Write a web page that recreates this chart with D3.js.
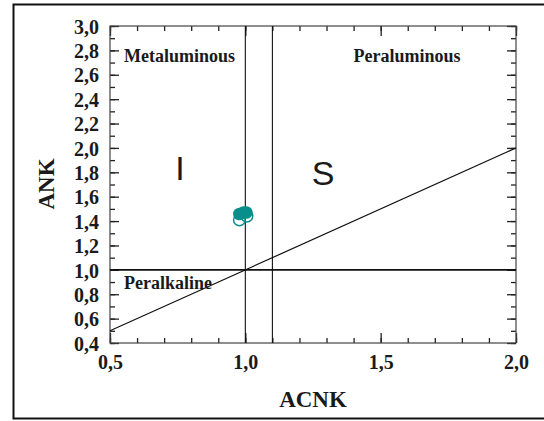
<!DOCTYPE html>
<html>
<head>
<meta charset="utf-8">
<script src="https://cdn.jsdelivr.net/npm/d3@7"></script>
<style>
  body { margin: 0; background: #fff; }
  .axisLabel { font-family: "Liberation Serif", "Times New Roman", serif; font-weight: bold; fill: #1a1a1a; }
  .fieldLabel { font-family: "Liberation Serif", "Times New Roman", serif; font-weight: bold; font-size: 18px; fill: #1a1a1a; }
  .typeLabel { font-family: "Liberation Sans", Arial, sans-serif; font-size: 34px; fill: #1a1a1a; }
</style>
</head>
<body>
<div id="graph"></div>
<script>
// 
// Data...
// 
var xTicks      = [0.5, 1.0, 1.5, 2.0];
var yTicks      = [0.4, 0.6, 0.8, 1.0, 1.2, 1.4, 1.6, 1.8, 2.0, 2.2, 2.4, 2.6, 2.8, 3.0];

var filledACNK  = [0.978, 0.993, 1.004];
var filledANK   = [1.458, 1.470, 1.470];
var openACNK    = [0.978, 1.006];
var openANK     = [1.409, 1.441];

var fieldNames  = ['Metaluminous', 'Peraluminous', 'Peralkaline'];
var typeNames   = ['I', 'S'];

function D3SVGApp ()
{
    var xMin = 0.5, xMax = 2.0;
    var yMin = 0.4, yMax = 3.0;

    var margin = { top: 26, right: 28, bottom: 78, left: 110 };
    var width  = 544 - margin.left - margin.right;
    var height = 421 - margin.top  - margin.bottom;

    var xScale = d3.scaleLinear ()
                   .domain ([xMin, xMax])
                   .range ([0, width]);

    var yScale = d3.scaleLinear ()
                   .domain ([yMin, yMax])
                   .range ([height, 0]);

    var root = d3.select ('div#graph')
                 .append ('svg')
                 .attr ('width', 544)
                 .attr ('height', 421);

    // outer frame
    root.append ('rect')
        .attr ('x', 13.5)
        .attr ('y', 4.5)
        .attr ('width', 545)
        .attr ('height', 414)
        .attr ('fill', 'none')
        .attr ('stroke', '#111')
        .attr ('stroke-width', 2);

    var svg = root.append ('g')
                  .attr ('transform', 'translate(' + margin.left + ',' + margin.top + ')');

    var xMinor = d3.range (5, 21).map (d => d / 10);
    var yMinor = d3.range (4, 31).map (d => d / 10);
    var fmt    = d => d.toFixed (1).replace ('.', ',');

    var addAxis = function (axis, tr)
    {
        var g = svg.append ('g')
                   .attr ('transform', tr)
                   .call (axis);
        g.select ('.domain').remove ();
        g.selectAll ('line').attr ('stroke', '#222').attr ('stroke-width', 1.3);
        g.selectAll ('text')
         .style ('font-family', '"Liberation Serif", "Times New Roman", serif')
         .style ('font-weight', 'bold')
         .style ('font-size', '20px')
         .attr ('fill', '#1a1a1a');
        return g;
    };

    // minor ticks, all four sides
    addAxis (d3.axisBottom (xScale).tickValues (xMinor).tickSize (-5).tickFormat (''), 'translate(0,' + height + ')');
    addAxis (d3.axisTop    (xScale).tickValues (xMinor).tickSize (-5).tickFormat (''), 'translate(0,0)');
    addAxis (d3.axisLeft   (yScale).tickValues (yMinor).tickSize (-5).tickFormat (''), 'translate(0,0)');
    addAxis (d3.axisRight  (yScale).tickValues (yMinor).tickSize (-5).tickFormat (''), 'translate(' + width + ',0)');

    // major ticks with labels
    addAxis (d3.axisBottom (xScale).tickValues (xTicks).tickSize (-10).tickPadding (12).tickFormat (fmt),
             'translate(0,' + height + ')');
    var yAx = addAxis (d3.axisLeft (yScale).tickValues (yTicks).tickSize (-9).tickPadding (11).tickFormat (fmt),
                       'translate(0,0)');
    addAxis (d3.axisTop   (xScale).tickValues (xTicks).tickSize (-10).tickFormat (''), 'translate(0,0)');
    addAxis (d3.axisRight (yScale).tickValues (yTicks).tickSize (-9).tickFormat (''), 'translate(' + width + ',0)');

    yAx.selectAll ('text').attr ('dy', '0.36em');

    // plot frame
    svg.append ('rect')
       .attr ('width', width)
       .attr ('height', height)
       .attr ('fill', 'none')
       .attr ('stroke', '#444')
       .attr ('stroke-width', 1.2);

    // field boundaries
    var line = d3.line ()
                 .x (function (d) { return xScale (d[0]); })
                 .y (function (d) { return yScale (d[1]); });

    svg.append ('path').attr ('d', line ([[xMin, 1.0], [xMax, 1.0]]))
       .attr ('stroke', '#111').attr ('stroke-width', 1.6).attr ('fill', 'none');
    svg.append ('path').attr ('d', line ([[1.0, yMin], [1.0, yMax]]))
       .attr ('stroke', '#111').attr ('stroke-width', 1.1).attr ('fill', 'none');
    svg.append ('path').attr ('d', line ([[1.1, yMin], [1.1, yMax]]))
       .attr ('stroke', '#111').attr ('stroke-width', 1.1).attr ('fill', 'none');
    svg.append ('path').attr ('d', line ([[xMin, 0.5], [xMax, 2.0]]))
       .attr ('stroke', '#111').attr ('stroke-width', 1.2).attr ('fill', 'none');

    // field labels
    svg.append ('text').attr ('class', 'fieldLabel')
       .attr ('x', 14).attr ('y', 36).text (fieldNames[0]);
    svg.append ('text').attr ('class', 'fieldLabel').style ('text-anchor', 'middle')
       .attr ('x', 297).attr ('y', 36).text (fieldNames[1]);
    svg.append ('text').attr ('class', 'fieldLabel')
       .attr ('x', 14).attr ('y', 263).text (fieldNames[2]);

    svg.append ('text').attr ('class', 'typeLabel').style ('text-anchor', 'middle')
       .attr ('x', 70).attr ('y', 154).text (typeNames[0]);
    svg.append ('text').attr ('class', 'typeLabel').style ('text-anchor', 'middle')
       .attr ('x', 213).attr ('y', 159).text (typeNames[1]);

    // samples
    var teal = '#088f8c';

    svg.selectAll ('.filled')
       .data (d3.zip (filledACNK, filledANK))
       .enter ()
       .append ('circle')
       .attr ('class', 'filled')
       .attr ('cx', d => xScale (d[0]))
       .attr ('cy', d => yScale (d[1]))
       .attr ('r', 6.3)
       .attr ('fill', teal);

    svg.selectAll ('.open')
       .data (d3.zip (openACNK, openANK))
       .enter ()
       .append ('circle')
       .attr ('class', 'open')
       .attr ('cx', d => xScale (d[0]))
       .attr ('cy', d => yScale (d[1]))
       .attr ('r', 5.8)
       .attr ('fill', 'none')
       .attr ('stroke', teal)
       .attr ('stroke-width', 1.5);

    // axis titles
    svg.append ('text')
       .attr ('class', 'axisLabel')
       .style ('text-anchor', 'middle')
       .attr ('font-size', 23)
       .attr ('x', width / 2)
       .attr ('y', height + 64)
       .text ('ACNK');

    svg.append ('text')
       .attr ('class', 'axisLabel')
       .style ('text-anchor', 'middle')
       .attr ('font-size', 23)
       .attr ('transform', 'rotate(-90)')
       .attr ('x', -(184 - margin.top))
       .attr ('y', 54 - margin.left)
       .text ('ANK');
}

D3SVGApp ();
</script>
</body>
</html>
